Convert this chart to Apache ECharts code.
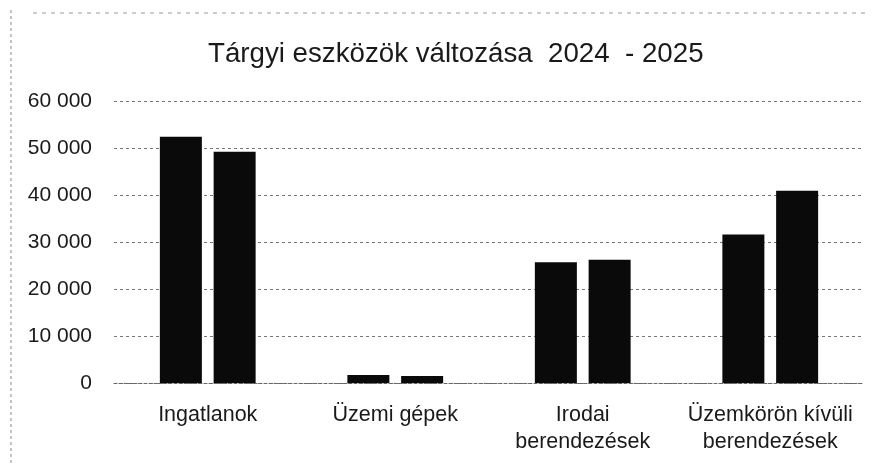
<!DOCTYPE html>
<html>
<head>
<meta charset="utf-8">
<script src="https://cdn.jsdelivr.net/npm/echarts@6/dist/echarts.min.js"></script>
<style>
    html, body { margin: 0; padding: 0; background: #fff; }
    #chart { width: 880px; height: 465px; }
</style>
</head>
<body>
<div id="chart"></div>
<script>
var categories = ['Ingatlanok', 'Üzemi gépek', 'Irodai\nberendezések', 'Üzemkörön kívüli\nberendezések'];
var values2024 = [52400, 1700, 25700, 31600];
var values2025 = [49200, 1500, 26200, 40900];
var yTicks = [0, 10000, 20000, 30000, 40000, 50000, 60000];

function formatThousands(v) {
    return String(v).replace(/\B(?=(\d{3})+(?!\d))/g, ' ');
}

var myChart = echarts.init(document.getElementById('chart'));
var option = {
    backgroundColor: '#fff',
    animation: false,
    title: {
        text: 'Tárgyi eszközök változása  2024  - 2025',
        left: 203,
        top: 35,
        textStyle: {
            fontFamily: 'Liberation Sans, sans-serif',
            fontSize: 27.7,
            fontWeight: 'normal',
            color: '#1a1a1a'
        }
    },
    grid: {
        left: 114,
        right: 16,
        top: 101,
        bottom: 82
    },
    xAxis: {
        type: 'category',
        data: categories,
        axisLine: { show: true, lineStyle: { color: '#666', type: [3, 2] } },
        axisTick: { show: false },
        axisLabel: {
            interval: 0,
            fontFamily: 'Liberation Sans, sans-serif',
            fontSize: 21.5,
            color: '#1a1a1a',
            lineHeight: 27,
            margin: 19
        }
    },
    yAxis: {
        type: 'value',
        min: yTicks[0],
        max: yTicks[yTicks.length - 1],
        interval: 10000,
        axisLine: { show: false },
        axisTick: { show: false },
        splitLine: { lineStyle: { color: '#777', type: [3, 3], width: 1 } },
        axisLabel: {
            fontFamily: 'Liberation Sans, sans-serif',
            fontSize: 21,
            color: '#1a1a1a',
            margin: 22,
            formatter: formatThousands
        }
    },
    series: [
        {
            name: '2024',
            type: 'bar',
            data: values2024,
            barWidth: 42,
            barGap: '28%',
            itemStyle: { color: '#0a0a0a' }
        },
        {
            name: '2025',
            type: 'bar',
            data: values2025,
            barWidth: 42,
            itemStyle: { color: '#0a0a0a' }
        }
    ],
    graphic: [
        {
            type: 'line',
            shape: { x1: 11, y1: 10, x2: 11, y2: 465 },
            style: { stroke: '#888', lineWidth: 1, lineDash: [3, 3] }
        },
        {
            type: 'line',
            shape: { x1: 33, y1: 13, x2: 870, y2: 13 },
            style: { stroke: '#999', lineWidth: 1, lineDash: [4, 5] }
        }
    ]
};

myChart.setOption(option);
</script>
</body>
</html>
